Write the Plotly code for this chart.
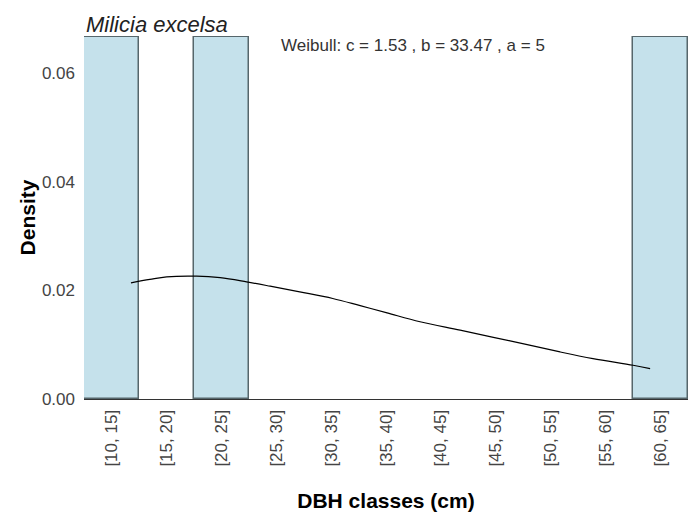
import plotly.graph_objects as go

# DBH classes (cm) and observed relative density per class
classes = ["[10, 15]", "[15, 20]", "[20, 25]", "[25, 30]", "[30, 35]", "[35, 40]",
           "[40, 45]", "[45, 50]", "[50, 55]", "[55, 60]", "[60, 65]"]
density = [0.0667, 0, 0.0667, 0, 0, 0, 0, 0, 0, 0, 0.0667]

# Fitted Weibull curve, expressed in class-index units on the x axis
curve_x = [1.355, 1.70, 2.005, 2.55, 2.98, 3.46, 3.89, 4.43, 5.03, 5.53, 6.02,
           6.62, 7.35, 8.26, 9.17, 9.77, 10.50, 10.81]
curve_y = [0.02137, 0.02200, 0.02248, 0.02261, 0.02233, 0.02156, 0.02076, 0.01971,
           0.01850, 0.01717, 0.01584, 0.01422, 0.01266, 0.01069, 0.00866, 0.00744,
           0.00621, 0.00560]

positions = list(range(1, len(classes) + 1))
y_ticks = [0.00, 0.02, 0.04, 0.06]
y_ticktext = ["0.00", "0.02", "0.04", "0.06"]

FONT = "Liberation Sans, Arial, sans-serif"

# only classes with observed trees get a bar
bar_x = [p for p, d in zip(positions, density) if d > 0]
bar_y = [d for d in density if d > 0]

fig = go.Figure()
fig.add_trace(go.Bar(
    x=bar_x, y=bar_y, width=1.0,
    marker=dict(color="#c5e1eb", line=dict(color="#56666b", width=1.5)),
    showlegend=False,
))
fig.add_trace(go.Scatter(
    x=curve_x, y=curve_y, mode="lines", line=dict(color="black", width=1.2, shape="spline"),
    showlegend=False,
))

fig.add_annotation(
    x=6.50, y=0.0650, xref="x", yref="y",
    text="Weibull: c = 1.53 , b = 33.47 , a = 5", showarrow=False,
    font=dict(family=FONT, size=17, color="#333333"),
)
fig.add_annotation(
    x=0, y=1, xref="paper", yref="paper", xanchor="left", yanchor="bottom", yshift=-3,
    text="<i>Milicia excelsa</i>", showarrow=False,
    font=dict(family=FONT, size=22, color="#222222"),
)

fig.update_layout(
    width=691, height=519,
    margin=dict(l=84, r=3, t=36, b=120),
    paper_bgcolor="white", plot_bgcolor="white",
    font=dict(family=FONT),
    bargap=0,
    xaxis=dict(
        range=[0.5, 11.5], tickvals=positions, ticktext=classes, tickangle=-90,
        showgrid=False, zeroline=False, showline=True, linecolor="#333333", linewidth=1.2,
        tickfont=dict(size=17, color="#444444"), ticks="", ticklabelstandoff=3,
        title=dict(text="<b>DBH classes (cm)</b>", font=dict(size=21, color="black"), standoff=27),
    ),
    yaxis=dict(
        range=[0, 0.0668], tickvals=y_ticks, ticktext=y_ticktext,
        showgrid=False, zeroline=False, showline=False, ticks="",
        tickfont=dict(size=17, color="#444444"), ticklabelstandoff=8,
        title=dict(text="<b>Density</b>", font=dict(size=21, color="black"), standoff=0),
    ),
)

fig.write_html("out.html")
